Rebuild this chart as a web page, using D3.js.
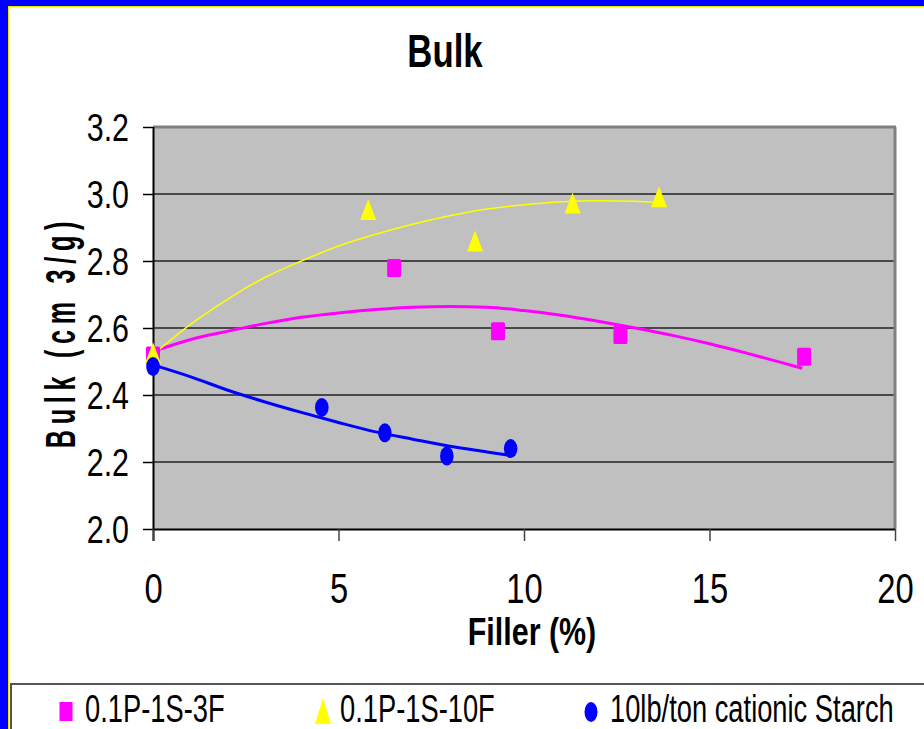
<!DOCTYPE html>
<html>
<head>
<meta charset="utf-8">
<script src="https://cdn.jsdelivr.net/npm/d3@7/dist/d3.min.js"></script>
<style>
  html, body { margin: 0; padding: 0; background: #fff; }
  svg { display: block; font-family: "Liberation Sans", Arial, sans-serif; }
</style>
</head>
<body>
<svg id="chart" width="924" height="729"></svg>
<script>
// ---------- data ----------
const chartTitle = "Bulk";
const xTitle = "Filler (%)";
const yTitle = "Bulk (cm 3/g)";
const seriesNames = ["0.1P-1S-3F", "0.1P-1S-10F", "10lb/ton cationic Starch"];
const seriesColors = ["#FF00FF", "#FFFF00", "#0000FF"];
const seriesShapes = ["square", "triangle", "circle"];

// measured points
const fillerA = [0, 6.5, 9.3, 12.6, 17.55];
const bulkA   = [2.518, 2.779, 2.59, 2.579, 2.514];
const fillerB = [0, 5.8, 8.68, 11.31, 13.64];
const bulkB   = [2.525, 2.952, 2.858, 2.972, 2.99];
const fillerC = [0, 4.55, 6.25, 7.92, 9.64];
const bulkC   = [2.485, 2.363, 2.287, 2.218, 2.240];

// trendlines
const trendXA = [0, 1, 2, 3, 4, 5, 6, 7, 8, 9, 10, 11, 12, 13, 14, 15, 16, 17, 17.5];
const trendYA = [2.53, 2.565, 2.59, 2.613, 2.632, 2.645, 2.655, 2.662, 2.664, 2.662, 2.652, 2.638, 2.62, 2.60, 2.578, 2.553, 2.525, 2.495, 2.48];
const trendXB = [0, 1, 2, 3, 4, 5, 6, 7, 8, 9, 10, 11, 12, 13, 13.6];
const trendYB = [2.52, 2.61, 2.685, 2.75, 2.80, 2.845, 2.88, 2.91, 2.935, 2.955, 2.968, 2.977, 2.98, 2.978, 2.975];
const trendXC = [0, 1, 2, 3, 4, 5, 6, 7, 8, 9, 9.6];
const trendYC = [2.49, 2.455, 2.415, 2.38, 2.348, 2.318, 2.29, 2.268, 2.247, 2.23, 2.22];

const xTicks = [0, 5, 10, 15, 20];
const yTicks = [2.0, 2.2, 2.4, 2.6, 2.8, 3.0, 3.2];

// ---------- layout ----------
const svg = d3.select("#chart");
const L = 153, R = 895, T = 127, B = 529;
const x = d3.scaleLinear().domain([0, 20]).range([L, R]);
const y = d3.scaleLinear().domain([2.0, 3.2]).range([B, T]);

// frame: blue border + yellow line
svg.append("rect").attr("x", 0).attr("y", 0).attr("width", 924).attr("height", 729).attr("fill", "#fff");
svg.append("rect").attr("x", 0).attr("y", 0).attr("width", 924).attr("height", 6).attr("fill", "#0000FF");
svg.append("rect").attr("x", 0).attr("y", 0).attr("width", 8).attr("height", 729).attr("fill", "#0000FF");
svg.append("line").attr("x1", 9).attr("x2", 924).attr("y1", 6.5).attr("y2", 6.5).attr("stroke", "#E8E800").attr("stroke-width", 1);
svg.append("line").attr("x1", 8.5).attr("x2", 8.5).attr("y1", 6).attr("y2", 729).attr("stroke", "#E8E800").attr("stroke-width", 1);

// plot area
svg.append("rect").attr("x", L).attr("y", T).attr("width", R - L).attr("height", B - T).attr("fill", "#C0C0C0");
// gridlines
svg.append("g").selectAll("line").data(yTicks.filter(v => v > 2.0 && v < 3.2)).join("line")
  .attr("x1", L).attr("x2", R).attr("y1", d => y(d)).attr("y2", d => y(d))
  .attr("stroke", "#222").attr("stroke-width", 1.5);
// top/right border
svg.append("line").attr("x1", L).attr("x2", R + 1).attr("y1", T).attr("y2", T).attr("stroke", "#808080").attr("stroke-width", 3);
svg.append("line").attr("x1", R).attr("x2", R).attr("y1", T).attr("y2", B).attr("stroke", "#808080").attr("stroke-width", 3);

// axes
const sx = 0.78;
const yAxis = d3.axisLeft(y).tickValues(yTicks).tickFormat(d3.format(".1f")).tickSize(10).tickSizeOuter(0);
const gy = svg.append("g").attr("transform", `translate(${L},0)`).call(yAxis);
gy.select(".domain").attr("stroke", "#000").attr("stroke-width", 2).attr("d", `M0.5,${T}V${B + 12}`);
gy.selectAll(".tick line").attr("stroke", "#000").attr("stroke-width", 1.5);
gy.selectAll(".tick text")
  .attr("x", -24 / sx).attr("dy", "0.35em")
  .attr("transform", `scale(${sx},1)`)
  .attr("font-size", 39).attr("fill", "#000").attr("text-anchor", "end");

const xAxis = d3.axisBottom(x).tickValues(xTicks).tickFormat(d3.format("d")).tickSize(12).tickSizeOuter(0);
const gx = svg.append("g").attr("transform", `translate(0,${B})`).call(xAxis);
gx.select(".domain").attr("stroke", "#000").attr("stroke-width", 2).attr("d", `M${L},0.5H${R}`);
gx.selectAll(".tick line").attr("stroke", "#444").attr("stroke-width", 1.5);
gx.selectAll(".tick text")
  .attr("y", 74).attr("dy", 0).attr("x", 0)
  .attr("transform", `scale(${sx},1)`)
  .attr("font-size", 42).attr("fill", "#000");

// trendlines
const line = d3.line().x(d => x(d[0])).y(d => y(d[1])).curve(d3.curveMonotoneX);
const trends = [
  { xs: trendXA, ys: trendYA, w: 3 },
  { xs: trendXB, ys: trendYB, w: 1.5 },
  { xs: trendXC, ys: trendYC, w: 3 }
];
trends.forEach((t, i) => {
  svg.append("path").datum(t.xs.map((v, j) => [v, t.ys[j]]))
    .attr("d", line).attr("fill", "none")
    .attr("stroke", seriesColors[i]).attr("stroke-width", t.w).attr("stroke-linejoin", "round");
});

// markers
function drawMarker(g, shape, color, cx, cy) {
  if (shape === "square") {
    g.append("rect").attr("x", cx - 7).attr("y", cy - 9).attr("width", 14).attr("height", 18).attr("rx", 1.5).attr("fill", color);
  } else if (shape === "triangle") {
    g.append("path").attr("d", `M${cx},${cy - 11}L${cx + 8},${cy + 10}L${cx - 8},${cy + 10}Z`).attr("fill", color);
  } else {
    g.append("ellipse").attr("cx", cx).attr("cy", cy).attr("rx", 6.8).attr("ry", 9.5).attr("fill", color);
  }
}
const pts = [
  { xs: fillerA, ys: bulkA },
  { xs: fillerB, ys: bulkB },
  { xs: fillerC, ys: bulkC }
];
const gm = svg.append("g");
pts.forEach((p, i) => {
  p.xs.forEach((v, j) => drawMarker(gm, seriesShapes[i], seriesColors[i], x(v), y(p.ys[j])));
});

// titles
svg.append("text").attr("transform", `translate(445,67) scale(0.74,1)`)
  .attr("text-anchor", "middle").attr("font-size", 47).attr("font-weight", "bold").text(chartTitle);
svg.append("text").attr("transform", `translate(532,645) scale(0.78,1)`)
  .attr("text-anchor", "middle").attr("font-size", 39).attr("font-weight", "bold").text(xTitle);
svg.append("text").attr("transform", `translate(75,332) rotate(-90) scale(0.6,1)`)
  .attr("text-anchor", "middle").attr("font-size", 42).attr("font-weight", "bold")
  .attr("letter-spacing", 9.5).text(yTitle);

// legend
svg.append("rect").attr("x", 11).attr("y", 684).attr("width", 930).attr("height", 80)
  .attr("fill", "#fff").attr("stroke", "#555").attr("stroke-width", 2);
const legendMarkX = [66, 323, 591];
const legendTextX = [85, 340, 610];
seriesNames.forEach((name, i) => {
  const lg = svg.append("g");
  if (seriesShapes[i] === "square") {
    lg.append("rect").attr("x", legendMarkX[i] - 6.5).attr("y", 702).attr("width", 13).attr("height", 19).attr("fill", seriesColors[i]);
  } else if (seriesShapes[i] === "triangle") {
    lg.append("path").attr("d", `M${legendMarkX[i]},698L${legendMarkX[i] + 8},724L${legendMarkX[i] - 8},724Z`).attr("fill", seriesColors[i]);
  } else {
    lg.append("ellipse").attr("cx", legendMarkX[i]).attr("cy", 712).attr("rx", 6.5).attr("ry", 10).attr("fill", seriesColors[i]);
  }
  lg.append("text").attr("transform", `translate(${legendTextX[i]},722) scale(0.70,1)`)
    .attr("font-size", 39).attr("fill", "#000").text(name);
});
</script>
</body>
</html>
